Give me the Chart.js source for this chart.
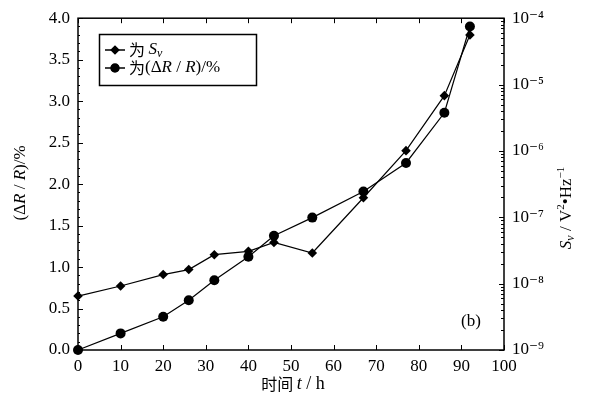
<!DOCTYPE html>
<html><head><meta charset="utf-8">
<script src="https://cdn.jsdelivr.net/npm/chart.js@4"></script>
<style>html,body{margin:0;padding:0;background:#fff}#w{width:589px;height:405px}</style>
</head><body><div id="w"><canvas id="c" width="589" height="405"></canvas></div>
<script>
const times = [0, 10, 20, 26, 32, 40, 46, 55, 67, 77, 86, 92];
const svValues = [6.5e-9, 9.2e-9, 1.37e-8, 1.63e-8, 2.73e-8, 3.07e-8, 4.18e-8, 2.9e-8, 1.97e-7, 1.01e-6, 6.8e-6, 5.6e-5];
const drValues = [0.0, 0.2, 0.4, 0.6, 0.84, 1.125, 1.377, 1.596, 1.91, 2.255, 2.86, 3.9];
const xTicks = [0, 10, 20, 30, 40, 50, 60, 70, 80, 90, 100];
const leftTicks = [0, 0.5, 1.0, 1.5, 2.0, 2.5, 3.0, 3.5, 4.0];
const rightTicks = ['10⁻⁹', '10⁻⁸', '10⁻⁷', '10⁻⁶', '10⁻⁵', '10⁻⁴'];
const legendLabels = ['为 Sv', '为(ΔR/R)/%'];

const SERIF = '"Liberation Serif", "DejaVu Serif", "Noto Sans CJK SC", serif';
const CJK = '"Noto Sans CJK SC", sans-serif';

function richText(ctx, segs, x, y, align) {
  let total = 0;
  segs.forEach(s => { ctx.font = s.font; total += ctx.measureText(s.t).width; });
  let cx = align === 'center' ? x - total / 2 : x;
  ctx.textBaseline = 'middle';
  ctx.textAlign = 'left';
  segs.forEach(s => { ctx.font = s.font; ctx.fillText(s.t, cx, y + (s.dy || 0)); cx += ctx.measureText(s.t).width; });
}

const deco = {
  id: 'deco',
  beforeDatasetsDraw(chart) {
    const ctx = chart.ctx, a = chart.chartArea;
    const xs = chart.scales.x, yl = chart.scales.y, yr = chart.scales.y2;
    ctx.save();
    ctx.strokeStyle = '#000'; ctx.fillStyle = '#000'; ctx.lineWidth = 1.5;
    ctx.strokeRect(a.left, a.top, a.right - a.left, a.bottom - a.top);
    ctx.lineWidth = 1;
    ctx.beginPath();
    xTicks.forEach(v => {
      const px = Math.round(xs.getPixelForValue(v)) + 0.5;
      ctx.moveTo(px, a.bottom); ctx.lineTo(px, a.bottom - 5);
      ctx.moveTo(px, a.top); ctx.lineTo(px, a.top + 5);
    });
    for (let i = 0; i <= 40; i++) {
      const v = i / 10;
      const py = Math.round(yl.getPixelForValue(v)) + 0.5;
      const len = (i % 5 === 0) ? 5 : 2;
      ctx.moveTo(a.left, py); ctx.lineTo(a.left + len, py);
    }
    for (let e = -9; e <= -4; e++) {
      for (let m = 1; m <= 9; m++) {
        if (e === -4 && m > 1) break;
        const py = Math.round(yr.getPixelForValue(m * Math.pow(10, e))) + 0.5;
        const len = m === 1 ? 5 : 3;
        ctx.moveTo(a.right, py); ctx.lineTo(a.right - len, py);
      }
    }
    ctx.stroke();

    // legend
    ctx.lineWidth = 1.5;
    ctx.strokeRect(99.5, 34.5, 157, 51);
    const rows = [50, 68];
    chart.data.datasets.forEach((ds, i) => {
      const y = rows[i];
      ctx.lineWidth = 1.5;
      ctx.beginPath(); ctx.moveTo(105, y); ctx.lineTo(125, y); ctx.stroke();
      Chart.helpers.drawPoint(ctx, {pointStyle: ds.pointStyle, radius: ds.pointRadius - 1, borderWidth: 1}, 115, y);
      ctx.fill();
    });
    richText(ctx, [{t: '为 ', font: '16px ' + CJK}, {t: 'S', font: 'italic 17px ' + SERIF}, {t: 'v', font: 'italic 12px ' + SERIF, dy: 4}], 129, 50, 'left');
    richText(ctx, [{t: '为', font: '16px ' + CJK}, {t: '(Δ', font: '17px ' + SERIF}, {t: 'R', font: 'italic 17px ' + SERIF}, {t: ' / ', font: '17px ' + SERIF}, {t: 'R', font: 'italic 17px ' + SERIF}, {t: ')/%', font: '17px ' + SERIF}], 129, 68, 'left');

    // (b)
    richText(ctx, [{t: '(b)', font: '17px ' + SERIF}], 471, 322, 'center');

    // x title
    richText(ctx, [{t: '时间 ', font: '16px ' + CJK}, {t: 't', font: 'italic 18px ' + SERIF}, {t: ' / h', font: '18px ' + SERIF}], 293, 384, 'center');

    // left title
    ctx.save(); ctx.translate(21, 183); ctx.rotate(-Math.PI / 2);
    richText(ctx, [{t: '(Δ', font: '17px ' + SERIF}, {t: 'R', font: 'italic 17px ' + SERIF}, {t: ' / ', font: '17px ' + SERIF}, {t: 'R', font: 'italic 17px ' + SERIF}, {t: ')/%', font: '17px ' + SERIF}], 0, 0, 'center');
    ctx.restore();

    // right title
    ctx.save(); ctx.translate(567, 208); ctx.rotate(-Math.PI / 2);
    richText(ctx, [{t: 'S', font: 'italic 17px ' + SERIF}, {t: 'v', font: 'italic 12px ' + SERIF, dy: 4}, {t: ' / V', font: '17px ' + SERIF}, {t: '2', font: '11px ' + SERIF, dy: -6}, {t: '•Hz', font: '17px ' + SERIF}, {t: '−1', font: '11px ' + SERIF, dy: -6}], 0, 0, 'center');
    ctx.restore();
    ctx.restore();
  }
};

new Chart(document.getElementById('c'), {
  type: 'line',
  data: {
    datasets: [
      {label: legendLabels[0], data: times.map((t, i) => ({x: t, y: svValues[i]})), yAxisID: 'y2', clip: false,
       borderColor: '#000', backgroundColor: '#000', borderWidth: 1.2, pointStyle: 'rectRot', pointRadius: 4.8, pointBorderWidth: 0, tension: 0},
      {label: legendLabels[1], data: times.map((t, i) => ({x: t, y: drValues[i]})), yAxisID: 'y', clip: false,
       borderColor: '#000', backgroundColor: '#000', borderWidth: 1.2, pointStyle: 'circle', pointRadius: 5, pointBorderWidth: 0, tension: 0}
    ]
  },
  options: {
    responsive: false, animation: false, devicePixelRatio: 1,
    layout: {padding: {top: 16, left: 0, right: 0, bottom: 0}},
    plugins: {legend: {display: false}, tooltip: {enabled: false}},
    scales: {
      x: {type: 'linear', min: 0, max: 100,
          afterBuildTicks: s => { s.ticks = xTicks.map(v => ({value: v})); },
          afterFit: s => { s.height = 55; },
          grid: {display: false, drawTicks: false}, border: {display: false},
          ticks: {padding: 6, color: '#000', font: {family: SERIF, size: 17}, maxRotation: 0, autoSkip: false}},
      y: {type: 'linear', position: 'left', min: 0, max: 4,
          afterBuildTicks: s => { s.ticks = leftTicks.map(v => ({value: v})); },
          afterFit: s => { s.width = 78; },
          grid: {display: false, drawTicks: false}, border: {display: false},
          ticks: {padding: 8, color: '#000', font: {family: SERIF, size: 17}, callback: v => v.toFixed(1)}},
      y2: {type: 'logarithmic', position: 'right', min: 1e-9, max: 1e-4,
          afterBuildTicks: s => { s.ticks = rightTicks.map((l, i) => ({value: Math.pow(10, i - 9)})); },
          afterFit: s => { s.width = 85; },
          grid: {display: false, drawTicks: false}, border: {display: false},
          ticks: {padding: 8, color: '#000', font: {family: SERIF, size: 17}, autoSkip: false,
                  callback: (v, i) => rightTicks[i]}}
    }
  },
  plugins: [deco]
});
</script>
</body></html>
